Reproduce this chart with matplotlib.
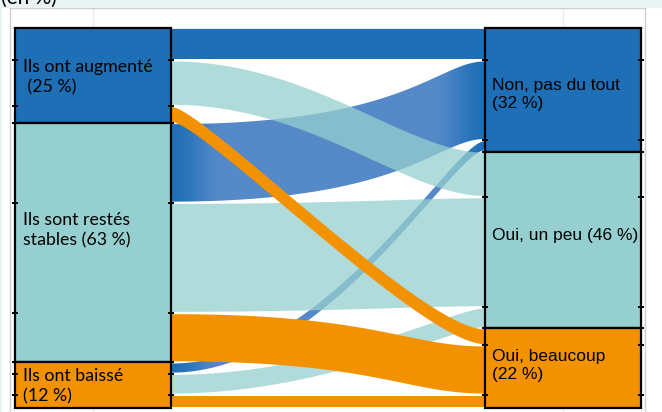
import numpy as np
import matplotlib
matplotlib.use("Agg")
import matplotlib.pyplot as plt
from matplotlib.path import Path
from matplotlib.patches import PathPatch, Rectangle
from matplotlib.colors import to_rgb

# ---------------- data (% of respondents) ----------------
source_labels = ["Ils ont augmenté\n (25 %)", "Ils sont restés\nstables (63 %)", "Ils ont baissé\n(12 %)"]
target_labels = ["Non, pas du tout\n(32 %)", "Oui, un peu (46 %)", "Oui, beaucoup\n(22 %)"]
# flows from each source to targets [Non, Oui un peu, Oui beaucoup]
flow_augmente = [8.5, 12.0, 4.5]
flow_stables = [21.0, 29.0, 13.0]
flow_baisse = [3.0, 5.5, 3.5]
title_text = "(en %)"

# ---------------- style ----------------
BLUE, TEAL, ORANGE = "#1f6fb6", "#96cfcf", "#f39200"
node_colors = [BLUE, TEAL, ORANGE]
flow_alpha = [1.0, 0.75, 1.0]
fade_sources = [False, True, True]      # gradient on blue flows
LIGHT_BLUE = "#5589c8"
# bezier control fractions (left, right) of each ribbon's curve
curve_shape = {
    (0, 0): (0.5, 0.5), (0, 1): (0.45, 0.25), (0, 2): (0.1, 0.2),
    (1, 0): (0.75, 0.15), (1, 1): (0.5, 0.2), (1, 2): (0.65, 0.25),
    (2, 0): (0.5, 0.1), (2, 1): (0.5, 0.1), (2, 2): (0.5, 0.5),
}

flows = np.array([flow_augmente, flow_stables, flow_baisse])
src_tot = flows.sum(axis=1)
tgt_tot = flows.sum(axis=0)

fig = plt.figure(figsize=(6.62, 4.12), dpi=100)
fig.patch.set_facecolor("white")
W, H = 662, 412
fig.patches.append(Rectangle((0, 1 - 8 / H), 1, 8 / H, transform=fig.transFigure,
                             facecolor="#eaf3f4", edgecolor="none", zorder=0))
fig.patches.append(Rectangle((0, 0), 2 / W, 1, transform=fig.transFigure,
                             facecolor="#eaf3f4", edgecolor="none", zorder=0))
fig.text(1 / W, 1 - 4 / H, title_text, fontsize=15, family="Lato", va="baseline", ha="left")

ax = fig.add_axes([10 / W, -8 / H, 635 / W, 412 / H])
ax.set_xticks([])
ax.set_yticks([])
for s in ax.spines.values():
    s.set_color("#cfcfcf")
    s.set_linewidth(1.0)
for xv in (1, 2):
    ax.axvline(xv, color="#ebebeb", lw=0.9, zorder=0)
ax.axhline(100, color="#ebebeb", lw=0.9, zorder=0)

nw = 1 / 3
xa, xb = 1 + nw / 2, 2 - nw / 2
gap = 0.3

src_top = 100 - np.concatenate([[0], np.cumsum(src_tot)[:-1]])
tgt_top = 100 - np.concatenate([[0], np.cumsum(tgt_tot)[:-1]])

_t = np.linspace(0, 1, 160)

def curve(y0, y1, k1, k2):
    X = 3 * (1 - _t) ** 2 * _t * k1 + 3 * (1 - _t) * _t ** 2 * (1 - k2) + _t ** 3
    Y = 3 * (1 - _t) * _t ** 2 + _t ** 3
    return np.column_stack([xa + X * (xb - xa), y0 + Y * (y1 - y0)])

left_pos, right_pos = {}, {}
left_bounds, right_bounds = [], []
src_cursor = src_top.copy()
tgt_cursor = tgt_top.copy()
for i in range(3):
    for j in range(3):
        v = flows[i, j]
        left_pos[(i, j)] = (src_cursor[i], src_cursor[i] - v)
        src_cursor[i] -= v
        left_bounds.append(src_cursor[i])
for j in range(3):
    for i in range(3):
        v = flows[i, j]
        right_pos[(i, j)] = (tgt_cursor[j], tgt_cursor[j] - v)
        tgt_cursor[j] -= v
        right_bounds.append(tgt_cursor[j])

def smooth(x):
    d = np.minimum(x - xa, xb - x)
    s = np.clip(d / 0.11, 0, 1)
    return s * s * (3 - 2 * s)

c_dark = np.array(to_rgb(BLUE))
c_light = np.array(to_rgb(LIGHT_BLUE))

for j in range(3):
    for i in range(3):
        l0, l1 = left_pos[(i, j)]
        r0, r1 = right_pos[(i, j)]
        k1, k2 = curve_shape[(i, j)]
        top = curve(l0 - gap, r0 - gap, k1, k2)
        bot = curve(l1 + gap, r1 + gap, k1, k2)[::-1]
        verts = np.vstack([[[1 - nw / 2, l0 - gap]], top, [[2 + nw / 2, r0 - gap]],
                           [[2 + nw / 2, r1 + gap]], bot, [[1 - nw / 2, l1 + gap]],
                           [[1 - nw / 2, l0 - gap]]])
        path = Path(verts)
        if j == 0 and fade_sources[i]:
            patch = PathPatch(path, facecolor="none", edgecolor="none")
            ax.add_patch(patch)
            xs = np.linspace(xa, xb, 300)
            s = smooth(xs)
            cols = c_dark[None, :] * (1 - s[:, None]) + c_light[None, :] * s[:, None]
            ymin, ymax = min(l1, r1) - 1, max(l0, r0) + 1
            im = ax.imshow(cols[None, :, :], extent=[xa, xb, ymin, ymax], aspect="auto",
                           origin="lower", interpolation="bilinear", zorder=1)
            im.set_clip_path(patch)
        else:
            ax.add_patch(PathPatch(path, facecolor=node_colors[j], edgecolor="none",
                                   alpha=flow_alpha[j], zorder=2))

ax.set_xlim(1 - 83 / 470, 2 + 82 / 470)
ax.set_ylim(-12 / 3.8, 100 + 20 / 3.8)

for i in range(3):
    ax.add_patch(Rectangle((1 - nw / 2, src_top[i] - src_tot[i]), nw, src_tot[i],
                           facecolor=node_colors[i], edgecolor="black", lw=1.6, zorder=5))
    ax.add_patch(Rectangle((2 - nw / 2, tgt_top[i] - tgt_tot[i]), nw, tgt_tot[i],
                           facecolor=node_colors[i], edgecolor="black", lw=1.6, zorder=5))

for yb_ in left_bounds:
    if 0.5 < yb_ < 99.5:
        ax.plot([1 - nw / 2, 1 + nw / 2], [yb_, yb_], ls="none", marker="_", ms=4,
                mew=1.4, color="black", zorder=6)
for yb_ in right_bounds:
    if 0.5 < yb_ < 99.5:
        ax.plot([2 - nw / 2, 2 + nw / 2], [yb_, yb_], ls="none", marker="_", ms=4,
                mew=1.4, color="black", zorder=6)

src_label_dy = [-0.5, 3.3, -0.2]
tgt_label_dy = [-1.2, 1.2, 0.7]
for i in range(3):
    yc = src_top[i] - src_tot[i] / 2 + src_label_dy[i]
    ax.text(1 - nw / 2 + 8 / 470, yc, source_labels[i], family="Lato", fontsize=12.8,
            va="center", ha="left", zorder=7, linespacing=1.3)
    yc = tgt_top[i] - tgt_tot[i] / 2 + tgt_label_dy[i]
    ax.text(2 - nw / 2 + 7 / 470, yc, target_labels[i], family="Liberation Sans",
            fontsize=12.5, va="center", ha="left", zorder=7, linespacing=1.3)

fig.savefig("out.png", dpi=100, facecolor=fig.get_facecolor())
